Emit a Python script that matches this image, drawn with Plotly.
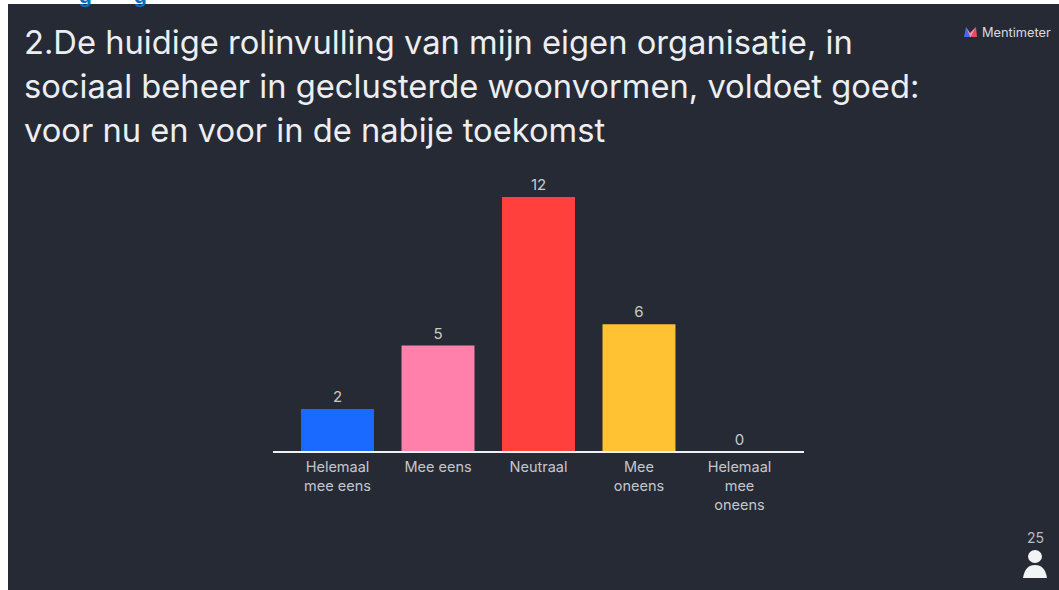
import plotly.graph_objects as go

WIDTH, HEIGHT = 1059, 590

categories = ["Helemaal<br>mee eens", "Mee eens", "Neutraal", "Mee<br>oneens", "Helemaal<br>mee<br>oneens"]
votes = [2, 5, 12, 6, 0]
bar_colors = ["#1a6aff", "#ff80ab", "#ff403d", "#ffc233", "#8a8f98"]
title_lines = [
    "2.De huidige rolinvulling van mijn eigen organisatie, in",
    "sociaal beheer in geclusterde woonvormen, voldoet goed:",
    "voor nu en voor in de nabije toekomst",
]
respondents = "25"

BG = "#252a35"
FONT = "Inter, 'Noto Sans', sans-serif"
BASELINE = 451.5
UNIT = 21.2


def px(x):
    return x / WIDTH


def py(y):
    return 1 - y / HEIGHT


def paper_shape(kind, x0, y0, x1, y1, color):
    return dict(type=kind, xref="paper", yref="paper", x0=px(x0), x1=px(x1),
                y0=py(y0), y1=py(y1), fillcolor=color, line_width=0, layer="below")


def paper_path(points, color):
    d = "M " + " L ".join(f"{px(x):.5f},{py(y):.5f}" for x, y in points) + " Z"
    return dict(type="path", xref="paper", yref="paper", path=d,
                fillcolor=color, line_width=0)


fig = go.Figure(go.Bar(
    x=categories, y=votes,
    marker=dict(color=bar_colors, line_width=0),
    text=[str(v) for v in votes],
    textposition="outside",
    textfont=dict(family=FONT, size=15, color="#c8cad0"),
    cliponaxis=False,
    width=0.726,
    hoverinfo="x+y",
))

shapes = [
    # slide background
    paper_shape("rect", 8, 4, WIDTH, HEIGHT, BG),
    # logo mark
    paper_path([(964, 37), (966, 27), (970, 37)], "#3d6df0"),
    paper_path([(971, 37), (976, 27), (977, 37)], "#f0486a"),
    paper_path([(966, 27), (970, 33), (976, 27), (971, 37), (970, 37)], "#f090b0"),
    # respondent icon
    dict(type="circle", xref="paper", yref="paper",
         x0=px(1028), x1=px(1042), y0=py(563), y1=py(550),
         fillcolor="#f2f3f5", line_width=0),
    dict(type="path", xref="paper", yref="paper",
         path=(f"M {px(1023):.5f},{py(578):.5f} "
               f"Q {px(1025):.5f},{py(565):.5f} {px(1035):.5f},{py(565):.5f} "
               f"Q {px(1045):.5f},{py(565):.5f} {px(1047):.5f},{py(578):.5f} Z"),
         fillcolor="#f2f3f5", line_width=0),
]


def label(text, x, y, size, color, xanchor="left", weight=None):
    return dict(text=text, xref="paper", yref="paper", x=px(x), y=py(y),
                xanchor=xanchor, yanchor="middle", showarrow=False,
                font=dict(family=FONT, size=size, color=color,
                          **({"weight": weight} if weight else {})))


annotations = [label(line, 22, y, 32.7, "#eceef1")
               for line, y in zip(title_lines, (42, 86, 130))]
annotations += [
    label("Mentimeter", 980, 32, 12.8, "#d8dade"),
    label(respondents, 1035, 537, 14, "#b9bcc2", xanchor="center"),
    # heading above the slide, cut off by the page edge
    label("g", 85, -4, 20, "#0a6ebd", xanchor="center", weight=700),
    label("g", 140, -4, 20, "#0a6ebd", xanchor="center", weight=700),
]

fig.update_layout(
    width=WIDTH, height=HEIGHT,
    margin=dict(l=0, r=0, t=0, b=0),
    paper_bgcolor="#ffffff",
    plot_bgcolor="rgba(0,0,0,0)",
    shapes=shapes,
    annotations=annotations,
    showlegend=False,
    xaxis=dict(
        domain=[px(273), px(804)],
        range=[-0.642, 4.642],
        showgrid=False, zeroline=False, showline=False,
        ticks="outside", ticklen=2, tickcolor="rgba(0,0,0,0)",
        tickfont=dict(family=FONT, size=14.5, color="#c4c6cb"),
    ),
    yaxis=dict(
        domain=[py(BASELINE), py(BASELINE - 275)],
        range=[0, 275 / UNIT],
        visible=False,
    ),
)
# baseline drawn above the bars
fig.add_shape(type="line", xref="paper", yref="paper", x0=px(273), x1=px(804),
              y0=py(452), y1=py(452), line=dict(color="#eef0f2", width=2))

fig.write_html("out.html")
